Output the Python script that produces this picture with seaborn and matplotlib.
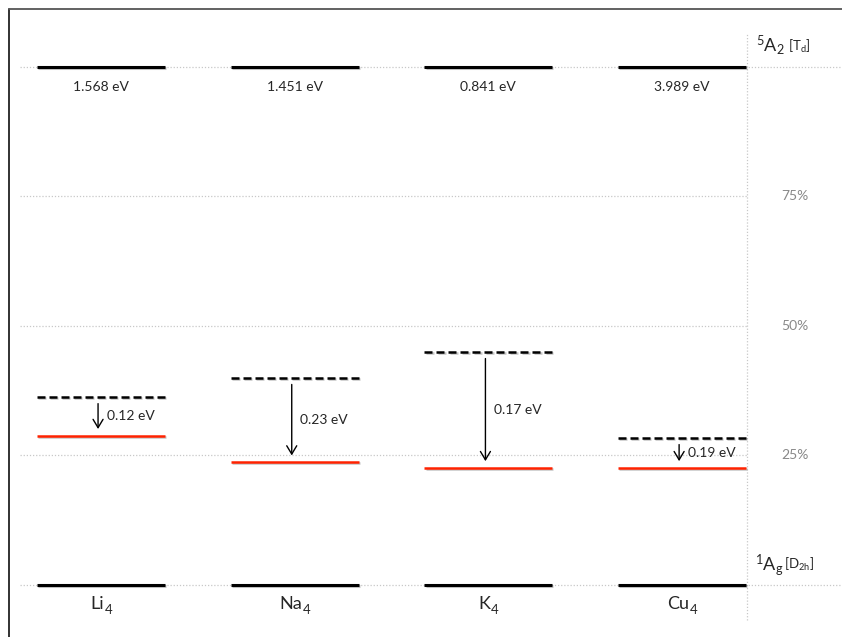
"""
Energy level diagram: ground and excited states of X4 clusters
"""

import matplotlib
matplotlib.use("Agg")
import matplotlib.pyplot as plt
import matplotlib.patheffects as pe
from matplotlib.lines import Line2D
import seaborn as sns

# data (percent of the 1Ag -> 5A2 gap)
clusters = ["Li", "Na", "K", "Cu"]
gap_labels = ["1.568 eV", "1.451 eV", "0.841 eV", "3.989 eV"]
dashed_level = [36.3, 40.0, 45.0, 28.4]
red_level = [28.8, 23.7, 22.6, 22.6]
shift_labels = ["0.12 eV", "0.23 eV", "0.17 eV", "0.19 eV"]
bottom_level = [0, 0, 0, 0]
top_level = [100, 100, 100, 100]
pct_ticks = [25, 50, 75]

sns.set_theme(style="white")
plt.rcParams["font.family"] = ["Lato", "DejaVu Sans"]
plt.rcParams["mathtext.fontset"] = "custom"
plt.rcParams["mathtext.rm"] = "Lato"
plt.rcParams["mathtext.it"] = "Lato:italic"

fig = plt.figure(figsize=(8.42, 6.37), dpi=100)
ax = fig.add_axes([20 / 842, 0, 822 / 842, 1])
ax.set_xlim(-0.418, 3.826)
ax.set_ylim(-10.04, 112.9)
ax.axis("off")

pos = list(range(len(clusters)))
hw = 0.33
grey = "#c8c8c8"
xv = 3.335  # right-hand divider

# dotted guides
for y in [0, 100]:
    ax.axhline(y, color=grey, lw=0.9, ls=(0, (1, 1.5)), zorder=0)
ax.hlines(pct_ticks, -0.418, xv, color=grey, lw=0.9, linestyles=(0, (1, 1.5)), zorder=0)
ax.axvline(xv, ymin=0.027, ymax=0.948, color=grey, lw=0.9, ls=(0, (1, 1.5)), zorder=0)

shadow = [pe.SimpleLineShadow(offset=(0.8, -0.8), alpha=0.25), pe.Normal()]
left = [p - hw for p in pos]
right = [p + hw for p in pos]

ax.hlines(top_level, left, right, color="black", lw=2.2, path_effects=shadow)
ax.hlines(bottom_level, left, right, color="black", lw=2.2, path_effects=shadow)
ax.hlines(dashed_level, left, right, color="black", lw=1.8,
          linestyles=(0, (3.2, 1.6)), path_effects=shadow)
ax.hlines(red_level, left, right, color="#ff2200", lw=1.8, path_effects=shadow)

gap = 1.3
for p, hi, lo, lab, gl, name in zip(pos, dashed_level, red_level, shift_labels,
                                    gap_labels, clusters):
    ax.annotate("", xy=(p - 0.015, lo + gap), xytext=(p - 0.015, hi - gap),
                arrowprops=dict(arrowstyle="->,head_length=0.5,head_width=0.3",
                                color="black", lw=1.0, shrinkA=0, shrinkB=0))
    ax.text(p + 0.03, (hi + lo) / 2, lab, ha="left", va="center", fontsize=10)
    ax.text(p, 96.2, gl, ha="center", va="center", fontsize=10)
    # cluster name with a lowered subscript
    t = ax.text(p - 0.02, -3.7, name, ha="center", va="center", fontsize=13)
    ax.annotate("4", xy=(1, 0), xycoords=t, xytext=(0.5, 1.5),
                textcoords="offset points", ha="left", va="center", fontsize=9.5)

for t in pct_ticks:
    ax.text(3.583, t, f"{t}%", ha="center", va="center", fontsize=10, color="#888888")

ax.text(3.38, 104.2, r"$\mathregular{^5A_2}$", ha="left", va="center", fontsize=13)
ax.text(3.545, 104.0, r"[$\mathregular{T_d}$]", ha="left", va="center", fontsize=9.5)
ax.text(3.375, 3.8, r"$\mathregular{^1A_g}$", ha="left", va="center", fontsize=13)
ax.text(3.525, 3.9, r"[$\mathregular{D_{2h}}$]", ha="left", va="center", fontsize=9.5)

# partial frame on the left and top
fig.add_artist(Line2D([9 / 842, 9 / 842], [0, 1 - 9 / 637], color="#222222", lw=1.3))
fig.add_artist(Line2D([9 / 842, 1], [1 - 9 / 637, 1 - 9 / 637], color="#555555", lw=1.3))

fig.savefig("out.png", dpi=100)
